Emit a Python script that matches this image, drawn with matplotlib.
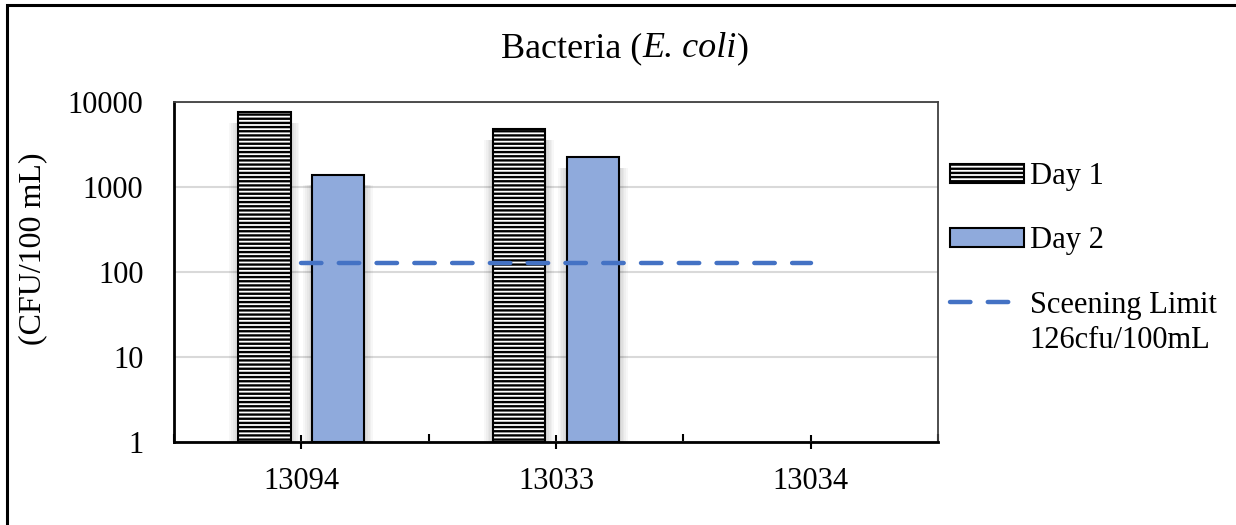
import matplotlib
matplotlib.use('Agg')
import matplotlib.pyplot as plt
import numpy as np
from matplotlib.patches import Rectangle

# DATA
sites = ['13094', '13033', '13034']
day1 = [7600, 4800, np.nan]
day2 = [1390, 2250, np.nan]
limit = [126, 126, 126]

plt.rcParams['font.family'] = ['Liberation Serif', 'DejaVu Serif']
plt.rcParams['hatch.linewidth'] = 1.7

fig = plt.figure(figsize=(12.36, 5.25), dpi=100)
ax = fig.add_axes([174 / 1236, 83 / 525, 764 / 1236, 340 / 525])

x = np.arange(len(sites))
w = 0.205
off = 0.145

# soft shadows behind bars
for k in range(5):
    ax.bar(x - off, np.array(day1) * 0.75, width=w + 0.014 * (k + 1), bottom=1,
           color='black', alpha=0.03, linewidth=0, zorder=1)
    ax.bar(x + off, np.array(day2) * 0.75, width=w + 0.014 * (k + 1), bottom=1,
           color='black', alpha=0.03, linewidth=0, zorder=1)

b1 = ax.bar(x - off, day1, width=w, bottom=1, color='white', edgecolor='black',
            hatch='----', linewidth=1.5, label='Day 1', zorder=3)
b2 = ax.bar(x + off, day2, width=w, bottom=1, color='#8faadc', edgecolor='black',
            linewidth=1.5, label='Day 2', zorder=3)
ln, = ax.plot(x, limit, color='#4472c4', linestyle=(0, (4.6, 3.9)), linewidth=3.2,
              dash_capstyle='round', label='Sceening Limit', zorder=4)

ax.set_yscale('log')
ax.set_ylim(1, 10000)
ax.set_xlim(-0.5, 2.5)
ax.set_yticks([1, 10, 100, 1000, 10000])
ax.set_yticklabels(['1', '10', '100', '1000', '10000'])
ax.yaxis.set_minor_locator(matplotlib.ticker.NullLocator())
ax.grid(axis='y', color='#d9d9d9', linewidth=1.5, zorder=0)
ax.set_axisbelow(True)

ax.set_xticks(x)
ax.set_xticklabels(sites)
ax.set_xticks([-0.5, 0.5, 1.5, 2.5], minor=True)
ax.tick_params(axis='x', which='major', direction='inout', length=9.5,
               width=1.5, labelsize=22, pad=13)
ax.tick_params(axis='x', which='minor', direction='in', length=6, width=1.5)
ax.tick_params(axis='y', length=0, labelsize=22, pad=22)

for s in ['left', 'bottom']:
    ax.spines[s].set_linewidth(2)
    ax.spines[s].set_color('black')
for s in ['top', 'right']:
    ax.spines[s].set_linewidth(1.3)
    ax.spines[s].set_color('#404040')

ax.set_ylabel('(CFU/100 mL)', fontsize=23)
ax.yaxis.set_label_coords(-0.166, 0.568)

# title in pieces so only the species name is italic
parts = [('Bacteria (', 'normal'), ('E. coli', 'italic'), (')', 'normal')]
r = fig.canvas.get_renderer()
widths = []
for txt, st in parts:
    t = fig.text(0, 0, txt, fontsize=26, style=st)
    widths.append(t.get_window_extent(r).width)
    t.remove()
xpos = 625 - sum(widths) / 2
for (txt, st), wd in zip(parts, widths):
    fig.text(xpos / 1236, 0.907, txt, fontsize=26, style=st,
             ha='left', va='center')
    xpos += wd

fig.legend([b1, b2, ln], ['Day 1', 'Day 2', 'Sceening Limit'],
           loc='upper left', bbox_to_anchor=(938 / 1236, 1 - 150 / 525),
           frameon=False, fontsize=22, handlelength=2.4,
           handleheight=0.55, handletextpad=0.2, labelspacing=1.15,
           borderaxespad=0)
# second line of the limit label
fig.text(1029 / 1236, 1 - 341 / 525, '126cfu/100mL', fontsize=22,
         ha='left', va='center')

# figure border
fig.patches.append(Rectangle((7 / 1236, -0.1), 1.2, 1 - 5 / 525 + 0.1,
                             transform=fig.transFigure, fill=False,
                             edgecolor='black', linewidth=2.2))

fig.savefig('out.png', dpi=100)
